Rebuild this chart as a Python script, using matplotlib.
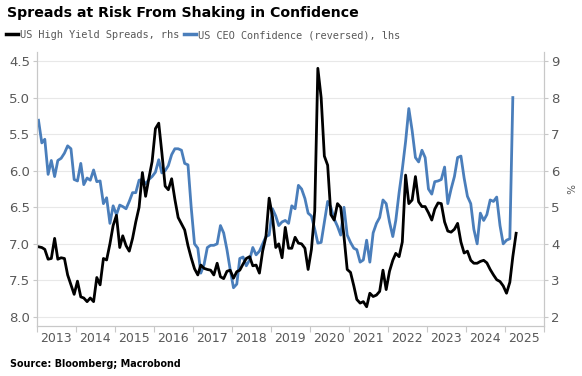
import pandas as pd
import matplotlib.pyplot as plt
import matplotlib.dates as mdates
from matplotlib.ticker import FixedLocator, FormatStrFormatter
from matplotlib.lines import Line2D

# monthly values, Jan 2013 onwards
hy_spreads = [
    3.92, 3.90, 3.85, 3.58, 3.60, 4.15, 3.58, 3.62, 3.60, 3.15, 2.88, 2.62,
    2.98, 2.55, 2.52, 2.42, 2.52, 2.42, 3.08, 2.88, 3.60, 3.56, 4.00, 4.50,
    4.78, 3.90, 4.22, 3.95, 3.80, 4.15, 4.60, 5.00, 5.95, 5.30, 5.80, 6.25,
    7.15, 7.30, 6.50, 5.58, 5.48, 5.78, 5.22, 4.72, 4.55, 4.38, 3.95, 3.62,
    3.32, 3.15, 3.42, 3.33, 3.30, 3.28, 3.15, 3.47, 3.10, 3.05, 3.25, 3.28,
    3.06, 3.24, 3.28, 3.45, 3.60, 3.65, 3.40, 3.42, 3.20, 3.80, 4.20, 5.25,
    4.75, 3.90, 4.00, 3.62, 4.45, 3.88, 3.88, 4.18, 4.02, 4.00, 3.88, 3.30,
    3.85, 4.90, 8.80, 8.00, 6.40, 6.15, 4.80, 4.65, 5.10, 5.00, 4.20, 3.30,
    3.22, 2.85, 2.48, 2.38, 2.42, 2.28, 2.65, 2.56, 2.60, 2.70, 3.28, 2.75,
    3.25, 3.55, 3.74, 3.65, 4.05, 5.88, 5.10, 5.20, 5.84, 5.15, 5.02, 5.02,
    4.85, 4.65, 4.95, 5.12, 5.10, 4.60, 4.35, 4.32, 4.40, 4.56, 4.05, 3.75,
    3.80, 3.55, 3.47, 3.47, 3.52, 3.55, 3.48, 3.30, 3.15, 3.02, 2.97, 2.85,
    2.65, 2.95, 3.65, 4.29,
]

ceo_confidence_rev = [
    5.31, 5.62, 5.57, 6.05, 5.86, 6.08, 5.86, 5.83, 5.76, 5.66, 5.70, 6.12,
    6.14, 5.90, 6.19, 6.10, 6.13, 5.99, 6.15, 6.14, 6.45, 6.37, 6.72, 6.48,
    6.60, 6.47, 6.49, 6.52, 6.42, 6.30, 6.30, 6.13, 6.12, 6.18, 6.12, 6.08,
    6.02, 5.85, 6.03, 6.00, 5.93, 5.78, 5.70, 5.70, 5.72, 5.90, 5.92, 6.50,
    7.00, 7.06, 7.40, 7.28, 7.05, 7.02, 7.02, 7.00, 6.75, 6.85, 7.08, 7.35,
    7.60, 7.55, 7.20, 7.18, 7.30, 7.22, 7.05, 7.15, 7.10, 7.00, 6.90, 6.88,
    6.52, 6.62, 6.75, 6.70, 6.68, 6.72, 6.48, 6.52, 6.20, 6.25, 6.38, 6.58,
    6.62, 6.80, 6.99, 6.98, 6.70, 6.42, 6.50, 6.66, 6.76, 6.88, 6.50, 6.88,
    6.98, 7.06, 7.08, 7.25, 7.22, 6.95, 7.25, 6.85, 6.72, 6.64, 6.40, 6.45,
    6.70, 6.90, 6.68, 6.30, 5.98, 5.60, 5.15, 5.45, 5.82, 5.88, 5.72, 5.82,
    6.25, 6.32, 6.15, 6.14, 6.12, 5.95, 6.45, 6.25, 6.08, 5.82, 5.80, 6.10,
    6.35, 6.45, 6.80, 7.00, 6.58, 6.68, 6.60, 6.40, 6.42, 6.36, 6.75, 7.00,
    6.95, 6.93, 5.00,
]

years = list(range(2013, 2026))
left_ticks = [4.5, 5.0, 5.5, 6.0, 6.5, 7.0, 7.5, 8.0]
right_ticks = [2, 3, 4, 5, 6, 7, 8, 9]

hy_dates = pd.date_range('2013-01-01', periods=len(hy_spreads), freq='MS') + pd.Timedelta(days=14)
ceo_dates = pd.date_range('2013-01-01', periods=len(ceo_confidence_rev), freq='MS') + pd.Timedelta(days=14)

black = '#000000'
blue = '#4a7ebb'
grey_txt = '#595959'
spine_c = '#c8c8c8'

fig = plt.figure(figsize=(5.82, 3.76), dpi=100)
ax = fig.add_axes([37 / 582, 1 - 326 / 376, 507 / 582, 274 / 376])
ax2 = ax.twinx()

ax.plot(ceo_dates, ceo_confidence_rev, color=blue, lw=2.0, solid_joinstyle='round')
ax2.plot(hy_dates, hy_spreads, color=black, lw=2.0, solid_joinstyle='round')

ax.set_xlim(pd.Timestamp('2013-01-01'), pd.Timestamp('2026-01-01'))
ax.set_ylim(8.123, 4.377)
ax2.set_ylim(1.754, 9.246)

ax.yaxis.set_major_locator(FixedLocator(left_ticks))
ax.yaxis.set_major_formatter(FormatStrFormatter('%.1f'))
ax2.yaxis.set_major_locator(FixedLocator(right_ticks))

ax.xaxis.set_major_locator(mdates.YearLocator())
ax.xaxis.set_major_formatter(plt.NullFormatter())
ax.xaxis.set_minor_locator(mdates.MonthLocator(bymonth=7))
ax.xaxis.set_minor_formatter(mdates.DateFormatter('%Y'))

ax.grid(axis='y', color='#e8e8e8', lw=0.8)
ax.set_axisbelow(True)

for a in (ax, ax2):
    a.spines['top'].set_visible(False)
    for s in ('left', 'right', 'bottom'):
        a.spines[s].set_color(spine_c)
        a.spines[s].set_linewidth(0.8)
    a.tick_params(axis='y', length=3, color=spine_c, labelsize=9.5, labelcolor=grey_txt, pad=2)

ax.tick_params(axis='x', which='major', length=4, color=spine_c)
ax.tick_params(axis='x', which='minor', length=0, labelsize=9, labelcolor=grey_txt, pad=4)

ax2.set_ylabel('%', rotation=270, fontsize=7.5, color=grey_txt, labelpad=10)

fig.text(7 / 582, 1 - 13 / 376, 'Spreads at Risk From Shaking in Confidence',
         fontsize=10.2, fontweight='bold', va='center', ha='left')

handles = [Line2D([], [], color=black, lw=2.5), Line2D([], [], color=blue, lw=2.5)]
labels = ['US High Yield Spreads, rhs', 'US CEO Confidence (reversed), lhs']
fig.legend(handles, labels, loc='center left', bbox_to_anchor=(6 / 582, 1 - 35 / 376),
           ncol=2, frameon=False, handlelength=1.2, handletextpad=0.2, columnspacing=0.4,
           borderaxespad=0, borderpad=0,
           prop={'family': 'DejaVu Sans Mono', 'size': 7.4}, labelcolor=grey_txt)

fig.text(10 / 582, 1 - 364 / 376, 'Source: Bloomberg; Macrobond',
         fontsize=6.9, fontweight='bold', va='center', ha='left',
         family=['Liberation Sans Narrow', 'DejaVu Sans'])

fig.savefig('out.png', dpi=100)
